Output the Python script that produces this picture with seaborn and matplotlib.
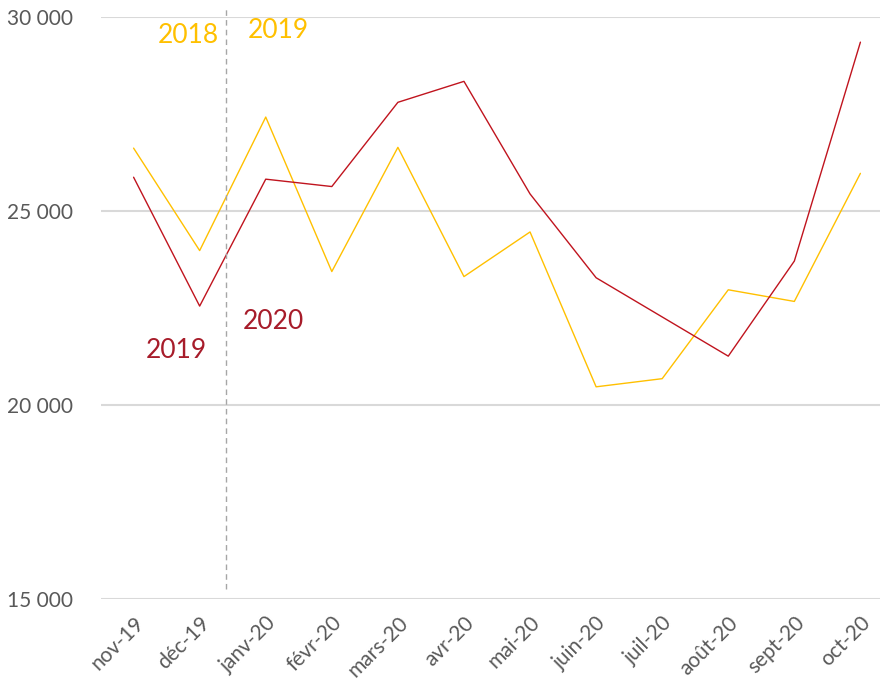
import matplotlib
matplotlib.use("Agg")
import matplotlib.pyplot as plt
import seaborn as sns
import pandas as pd

# Monthly values
months = ["nov-19", "déc-19", "janv-20", "févr-20", "mars-20", "avr-20",
          "mai-20", "juin-20", "juil-20", "août-20", "sept-20", "oct-20"]
current = [25860, 22540, 25810, 25620, 27790, 28330,
           25430, 23270, 22260, 21250, 23700, 29340]
previous = [26610, 23970, 27410, 23430, 26630, 23300,
            24450, 20460, 20670, 22960, 22660, 25960]
yticks = [15000, 20000, 25000, 30000]

red = "#C0141E"
red_text = "#A71C2A"
gold = "#FFC000"
grey = "#595959"

df = pd.DataFrame({
    "x": list(range(len(months))) * 2,
    "value": current + previous,
    "serie": ["current"] * len(months) + ["previous"] * len(months),
})

sns.set_style("white")
plt.rcParams["font.family"] = ["Lato", "DejaVu Sans"]

fig = plt.figure(figsize=(8.82, 6.89), dpi=100)
ax = fig.add_axes([0.114, 0.131, 0.884, 0.845])

sns.lineplot(data=df, x="x", y="value", hue="serie",
             palette={"current": red, "previous": gold},
             hue_order=["previous", "current"],
             linewidth=1.0, legend=False, ax=ax)

ax.set_ylim(15000, 30000)
ax.set_xlim(-0.5, 11.3)
ax.set_yticks(yticks)
ax.set_yticklabels([f"{v:,}".replace(",", " ") for v in yticks])
ax.set_xticks(range(len(months)))
ax.set_xticklabels(months, rotation=45, ha="right", rotation_mode="anchor")
ax.tick_params(axis="both", length=0, labelsize=15, colors=grey)
ax.tick_params(axis="x", pad=10)
ax.tick_params(axis="y", pad=20)
ax.yaxis.grid(True, color="#d9d9d9", linewidth=1.5)
ax.set_axisbelow(True)
ax.set_xlabel("")
ax.set_ylabel("")
sns.despine(ax=ax, left=True, bottom=True)

# year break between déc-19 and janv-20
ax.plot([1.4, 1.4], [15250, 30190], linestyle=(0, (4, 3)), color="#a6a6a6",
        linewidth=1.0, clip_on=False)

ax.text(0.83, 29520, "2018", color=gold, fontsize=19, ha="center", va="center")
ax.text(2.19, 29640, "2019", color=gold, fontsize=19, ha="center", va="center")
ax.text(0.64, 21390, "2019", color=red_text, fontsize=19, ha="center", va="center")
ax.text(2.12, 22140, "2020", color=red_text, fontsize=19, ha="center", va="center")

fig.savefig("out.png", dpi=100)
